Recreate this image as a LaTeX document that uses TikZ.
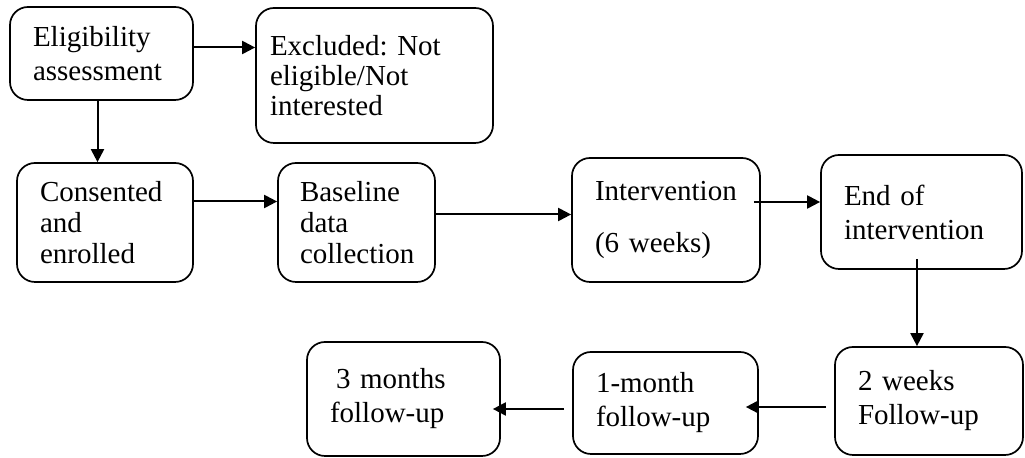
\documentclass[tikz,border=0pt]{standalone}
\usepackage{fontspec}
\setmainfont{Liberation Serif}
\usetikzlibrary{arrows.meta}
\hyphenpenalty=10000
\exhyphenpenalty=10000
\frenchspacing

\begin{document}
\begin{tikzpicture}[x=0.5pt,y=-0.5pt,
		stage/.style={draw,rounded corners=9pt,line width=0.85pt,align=left,inner xsep=11.5pt,font=\fontsize{14.5}{17}\selectfont},
		flow/.style={-{Triangle[length=6.5pt,width=6.5pt]},line width=1pt}]
		\useasboundingbox (0,0) rectangle (1025,458);
		% top row
		\node[stage,text width=68.5pt,minimum height=46.5pt] (elig) at (101.5,53.5) {Eligibility\\assessment};
		\node[stage,inner xsep=7pt,text width=104.5pt,minimum height=67.5pt] (excl) at (374.5,75.5) {Excluded: Not\\[-2pt]eligible/Not\\[-2pt]interested\\[-4pt]};
		% middle row
		\node[stage,text width=65pt,minimum height=59.5pt] (cons) at (105,222.5) {Consented\\[-1.5pt]and\\[-1.5pt]enrolled};
		\node[stage,inner xsep=11pt,text width=56.5pt,minimum height=59.5pt] (base) at (356.5,222.5) {Baseline\\[-1.5pt]data\\[-1.5pt]collection};
		\node[stage,text width=71pt,minimum height=62pt] (interv) at (666,220) {Intervention\\[9pt](6 weeks)};
		\node[stage,text width=77.5pt,minimum height=57pt] (endint) at (921.5,212) {End of\\intervention\\[14pt]};
		% bottom row
		\node[stage,text width=71pt,minimum height=54pt] (twowk) at (929,401) {2 weeks\\Follow-up\\[2pt]};
		\node[stage,text width=69.5pt,minimum height=51pt] (onemo) at (665.5,403) {1-month\\follow-up};
		\node[stage,text width=73.5pt,minimum height=57pt] (threemo) at (403.5,399) {\hspace*{3pt}3 months\\follow-up\\[4pt]};
		
		\draw[flow] ([yshift=3pt]elig.east) -- ([yshift=3pt]elig.east -| excl.west);
		\draw[flow] ([xshift=-2pt]elig.south) -- ([xshift=-2pt]elig.south |- cons.north);
		\draw[flow] ([yshift=10.5pt]cons.east) -- ([yshift=10.5pt]cons.east -| base.west);
		\draw[flow] ([yshift=4pt]base.east) -- ([yshift=4pt]base.east -| interv.west);
		\draw[flow] ([xshift=-3.5pt,yshift=9pt]interv.east) -- ([yshift=9pt]interv.east -| endint.west);
		\draw[flow] ([xshift=-2.25pt,yshift=5.5pt]endint.south) -- ([xshift=-2.25pt]endint.south |- twowk.north);
		\draw[flow] ([xshift=-4pt,yshift=-3pt]twowk.west) -- ([xshift=-6.5pt,yshift=-3pt]twowk.west -| onemo.east);
		\draw[flow] ([xshift=-4pt,yshift=-3pt]onemo.west) -- ([xshift=-4pt,yshift=-3pt]onemo.west -| threemo.east);
		
\end{tikzpicture}
\end{document}
